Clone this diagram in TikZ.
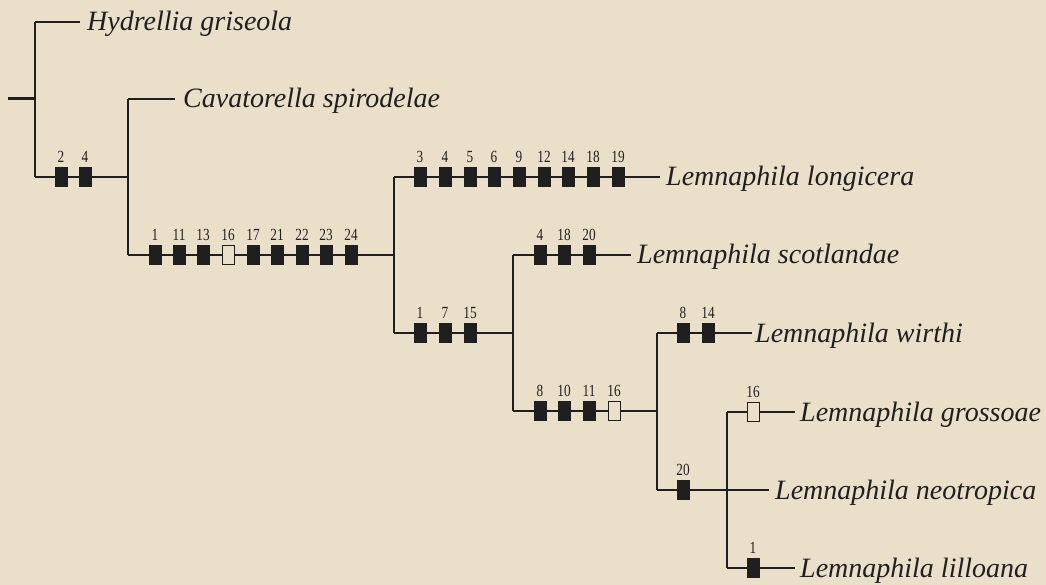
\documentclass[tikz,border=0pt]{standalone}
\usepackage{fontspec}
\setmainfont{Liberation Serif}
\newfontfamily\numfont[FakeStretch=0.78]{Liberation Serif}
\begin{document}
\begin{tikzpicture}[x=1pt,y=-1pt,
  branch/.style={line width=1.3pt, draw=black!88},
  stub/.style={line width=3pt, draw=black!88},
  charbox/.style={draw=black!88, fill=black!88, line width=0.8pt, minimum width=12pt, minimum height=19pt, inner sep=0pt},
  openbox/.style={charbox, fill=bg},
  numlab/.style={font=\numfont\fontsize{17}{17}\selectfont, inner sep=0pt, text=black!88},
  taxon/.style={font=\itshape\fontsize{28}{28}\selectfont, anchor=base west, inner sep=0pt, text=black!88},
  label distance=4pt
]
\definecolor{bg}{HTML}{EAE0CA}
\fill[bg] (0,0) rectangle (1046,585);
\useasboundingbox (0,0) rectangle (1046,585);

% junction / tip coordinates
\coordinate (root) at (8,99);
\coordinate (n0) at (35,99);
\coordinate (n0t) at (35,22);
\coordinate (n0b) at (35,177);
\coordinate (hydT) at (80,22);
\coordinate (n1) at (128,177);
\coordinate (n1t) at (128,99);
\coordinate (n1b) at (128,255);
\coordinate (cavT) at (175,99);
\coordinate (n2) at (394,255);
\coordinate (n2t) at (394,177);
\coordinate (n2b) at (394,333);
\coordinate (lonT) at (660,177);
\coordinate (n3) at (513,333);
\coordinate (n3t) at (513,255);
\coordinate (n3b) at (513,411);
\coordinate (scoT) at (631,255);
\coordinate (n4) at (657,411);
\coordinate (n4t) at (657,333);
\coordinate (n4b) at (657,490);
\coordinate (wirT) at (752,333);
\coordinate (neoT) at (769,490);
\coordinate (n5t) at (727,412);
\coordinate (n5b) at (727,568);
\coordinate (groT) at (795,412);
\coordinate (lilT) at (795,568);

% branches
\draw[stub] (root) -- (n0);
\draw[branch] (n0t) -- (n0b);
\draw[branch] (n0t) -- (hydT);
\draw[branch] (n0b) -- (n1);
\draw[branch] (n1t) -- (n1b);
\draw[branch] (n1t) -- (cavT);
\draw[branch] (n1b) -- (n2);
\draw[branch] (n2t) -- (n2b);
\draw[branch] (n2t) -- (lonT);
\draw[branch] (n2b) -- (n3);
\draw[branch] (n3t) -- (n3b);
\draw[branch] (n3t) -- (scoT);
\draw[branch] (n3b) -- (n4);
\draw[branch] (n4t) -- (n4b);
\draw[branch] (n4t) -- (wirT);
\draw[branch] (n4b) -- (neoT);
\draw[branch] (n5t) -- (n5b);
\draw[branch] (n5t) -- (groT);
\draw[branch] (n5b) -- (lilT);

% character boxes
\node[charbox, label={[numlab]above:2}] (c2a) at (61,177) {};
\node[charbox, label={[numlab]above:4}] (c4a) at (85,177) {};

\node[charbox, label={[numlab]above:1}] (b1) at (155,255) {};
\node[charbox, label={[numlab]above:11}] (b11) at (179,255) {};
\node[charbox, label={[numlab]above:13}] (b13) at (203,255) {};
\node[openbox, label={[numlab]above:16}] (b16) at (228,255) {};
\node[charbox, label={[numlab]above:17}] (b17) at (253,255) {};
\node[charbox, label={[numlab]above:21}] (b21) at (277,255) {};
\node[charbox, label={[numlab]above:22}] (b22) at (302,255) {};
\node[charbox, label={[numlab]above:23}] (b23) at (326,255) {};
\node[charbox, label={[numlab]above:24}] (b24) at (351,255) {};

\node[charbox, label={[numlab]above:3}] (l3) at (420,177) {};
\node[charbox, label={[numlab]above:4}] (l4) at (445,177) {};
\node[charbox, label={[numlab]above:5}] (l5) at (470,177) {};
\node[charbox, label={[numlab]above:6}] (l6) at (494,177) {};
\node[charbox, label={[numlab]above:9}] (l9) at (519,177) {};
\node[charbox, label={[numlab]above:12}] (l12) at (544,177) {};
\node[charbox, label={[numlab]above:14}] (l14) at (568,177) {};
\node[charbox, label={[numlab]above:18}] (l18) at (593,177) {};
\node[charbox, label={[numlab]above:19}] (l19) at (618,177) {};

\node[charbox, label={[numlab]above:1}] (d1) at (420,333) {};
\node[charbox, label={[numlab]above:7}] (d7) at (445,333) {};
\node[charbox, label={[numlab]above:15}] (d15) at (470,333) {};

\node[charbox, label={[numlab]above:4}] (s4) at (540,255) {};
\node[charbox, label={[numlab]above:18}] (s18) at (564,255) {};
\node[charbox, label={[numlab]above:20}] (s20) at (589,255) {};

\node[charbox, label={[numlab]above:8}] (e8) at (540,411) {};
\node[charbox, label={[numlab]above:10}] (e10) at (564,411) {};
\node[charbox, label={[numlab]above:11}] (e11) at (589,411) {};
\node[openbox, label={[numlab]above:16}] (e16) at (614,411) {};

\node[charbox, label={[numlab]above:8}] (w8) at (683,333) {};
\node[charbox, label={[numlab]above:14}] (w14) at (708,333) {};

\node[charbox, label={[numlab]above:20}] (ne20) at (683,490) {};
\node[openbox, label={[numlab]above:16}] (g16) at (753,412) {};
\node[charbox, label={[numlab]above:1}] (li1) at (753,568) {};

% taxa
\node[taxon] (hyd) at (87,31) {Hydrellia griseola};
\node[taxon] (cav) at (183,108) {Cavatorella spirodelae};
\node[taxon] (lon) at (666,186) {Lemnaphila longicera};
\node[taxon] (sco) at (637,264) {Lemnaphila scotlandae};
\node[taxon] (wir) at (755,342) {Lemnaphila wirthi};
\node[taxon] (gro) at (800,421) {Lemnaphila grossoae};
\node[taxon] (neo) at (775,499) {Lemnaphila neotropica};
\node[taxon] (lil) at (800,577) {Lemnaphila lilloana};
\end{tikzpicture}
\end{document}
